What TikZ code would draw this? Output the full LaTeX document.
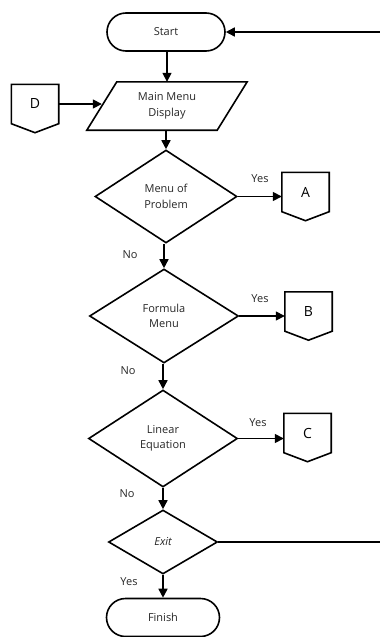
\documentclass[tikz,border=0pt]{standalone}
\usepackage{fontspec}
\setmainfont{Open Sans}
\usetikzlibrary{shapes.geometric,shapes.misc,arrows.meta}
\newcommand{\offpage}[4]{%
  \node[offp] (#1) at (#2,#3) {#4};
  \draw[ln] (#1.north west) -- (#1.north east) -- (#1.south east)
    -- ([yshift=-9pt]#1.south) -- (#1.south west) -- cycle;}
\begin{document}
\begin{tikzpicture}[x=1pt,y=-1pt,
  ln/.style={line width=1.6pt, line join=miter},
  arr/.style={ln, -{Triangle[length=9pt,width=9pt]}},
  txt/.style={font=\fontsize{11}{15.5}\selectfont, text=black!85},
  term/.style={rounded rectangle, draw, ln, minimum width=#1, minimum height=38pt, inner sep=0pt, txt},
  dec/.style 2 args={diamond, draw, ln, minimum width=#1, minimum height=#2, inner sep=0pt, align=center, txt},
  offp/.style={minimum width=47pt, minimum height=39pt, inner sep=0pt, font=\fontsize{14}{16}\selectfont},
  lbl/.style={txt, inner sep=0pt}
]
\useasboundingbox (0,0) rectangle (380,637);

\node[term=118pt] (start) at (166,32) {Start};
\node[minimum width=130pt, minimum height=48pt, inner sep=0pt, align=center, txt] (mm) at (167,106) {Main Menu\\Display};
\draw[ln] ([xshift=15pt]mm.north west) -- ([xshift=15pt]mm.north east)
  -- ([xshift=-15pt]mm.south east) -- ([xshift=-15pt]mm.south west) -- cycle;

\node[dec={142pt}{93pt}] (d1) at (166,196.5) {Menu of\\Problem};
\node[dec={149pt}{94pt}] (d2) at (164,316) {Formula\\Menu};
\node[dec={149pt}{97pt}] (d3) at (163,438.5) {Linear\\Equation};
\node[dec={109pt}{64pt}] (d4) at (163,542) {\itshape Exit};
\node[term=113pt] (finish) at (163,617.5) {Finish};

\offpage{D}{35}{104}{D}
\offpage{A}{305.5}{192}{A}
\offpage{B}{308.5}{311.5}{B}
\offpage{C}{307.5}{433}{C}

\coordinate (startsrc) at (380,32);
\coordinate (exitend) at (380,542);

\draw[arr] (startsrc) -- (start);
\draw[arr] (start.south -| mm.north) -- (mm.north);
\draw[arr] (D.east) -- (D.east -| mm.west);
\draw[arr] (mm.south -| d1.north) -- (d1.north);
\draw[arr] (d1.south -| d2.north) -- (d2.north);
\draw[arr] (d2.south -| d3.north) -- (d3.north);
\draw[arr] (d3.south -| d4.north) -- (d4.north);
\draw[arr] (d4.south -| finish.north) -- (finish.north);
\draw[arr] (d1.east) -- (d1.east -| A.west);
\draw[arr] (d2.east) -- (d2.east -| B.west);
\draw[arr] (d3.east) -- (d3.east -| C.west);
\draw[ln] (d4.east) -- (exitend);

\node[lbl] (y1) at (260,179) {Yes};
\node[lbl] (n1) at (130,255) {No};
\node[lbl] (y2) at (260,299) {Yes};
\node[lbl] (n2) at (128,371) {No};
\node[lbl] (y3) at (258,423) {Yes};
\node[lbl] (n3) at (127,494) {No};
\node[lbl] (y4) at (129,582) {Yes};
\end{tikzpicture}
\end{document}
